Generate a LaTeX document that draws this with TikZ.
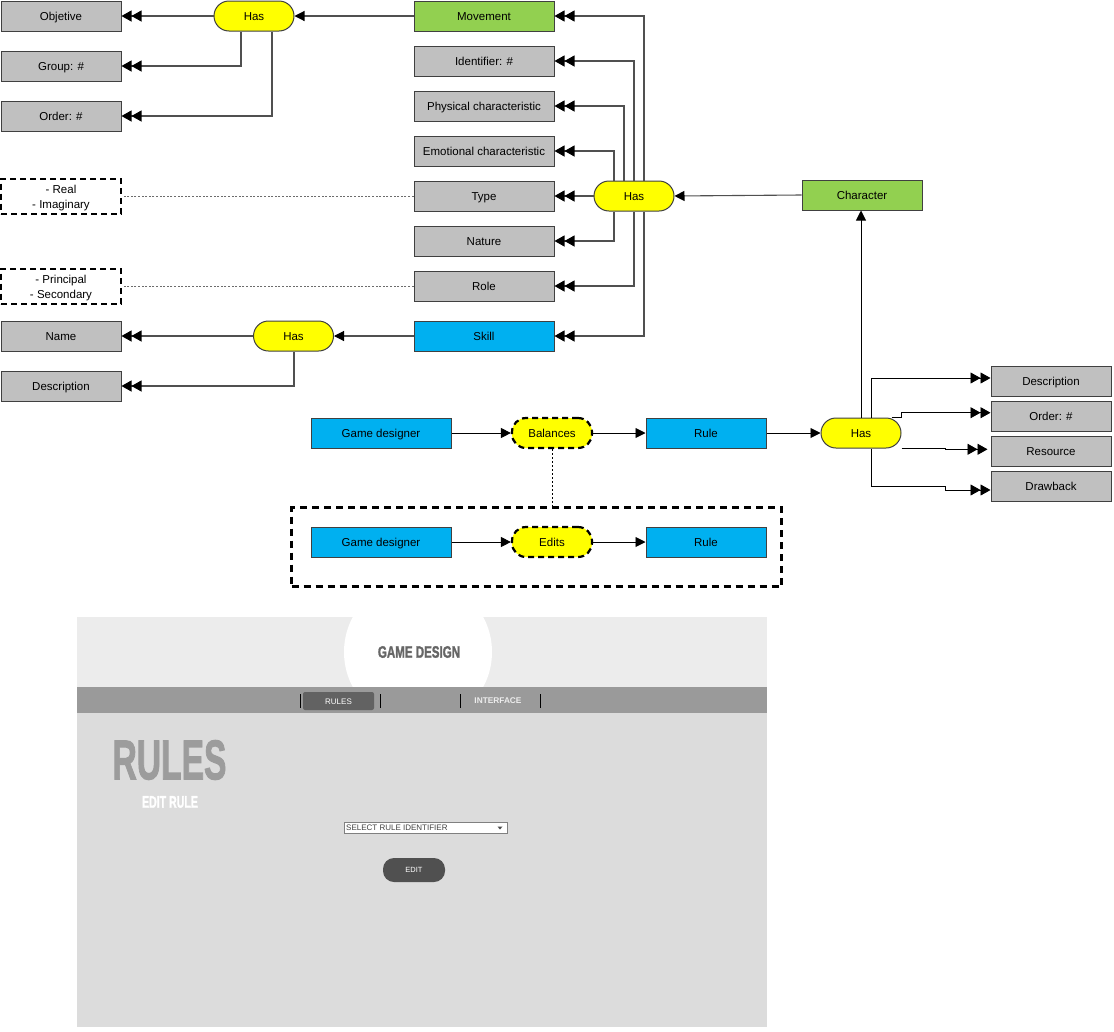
\documentclass[tikz,border=0pt]{standalone}
\usepackage{fontspec}
\setmainfont{Liberation Sans}
\newfontfamily\heavy[FakeBold=2]{Liberation Sans Bold}
\usetikzlibrary{arrows.meta,calc}
\definecolor{boxgray}{HTML}{C0C0C0}
\definecolor{edgegray}{HTML}{404040}
\definecolor{cgreen}{HTML}{92D050}
\definecolor{cblue}{HTML}{00B0F0}
\definecolor{cyellow}{HTML}{FFFF00}
\definecolor{linecol}{HTML}{505050}
\definecolor{hdr}{HTML}{ECECEC}
\definecolor{bodygray}{HTML}{DCDCDC}
\definecolor{band}{HTML}{9A9A9A}
\definecolor{tabgray}{HTML}{626262}
\definecolor{titlegray}{HTML}{666666}
\definecolor{rulesgray}{HTML}{9C9C9C}
\definecolor{btngray}{HTML}{505050}
\tikzset{
 base/.style={draw=edgegray, line width=1pt, minimum height=30pt, inner sep=0pt, text=black, text height=8.2pt, text depth=0pt},
 gbox/.style={base, fill=boxgray, minimum width=120pt},
 gwide/.style={base, fill=boxgray, minimum width=140pt},
 greenbox/.style={base, fill=cgreen},
 bluebox/.style={base, fill=cblue},
 hasnode/.style={base, fill=cyellow, rounded corners=15pt, minimum width=80pt},
 dashnode/.style={draw=black, line width=2.2pt, dash pattern=on 6pt off 4pt, fill=cyellow, rounded corners=14pt, minimum width=80pt, minimum height=30pt, inner sep=0pt, text height=8.2pt, text depth=0pt},
 notebox/.style={draw=black, line width=2pt, dash pattern=on 6pt off 4pt, minimum width=120pt, minimum height=35pt, align=center, inner sep=0pt},
 conn/.style={draw=linecol, line width=1.1pt},
 dbl/.style={conn, -{Triangle[length=10pt,width=11pt,color=black]Triangle[length=10pt,width=11pt,color=black]}},
 sgl/.style={conn, -{Triangle[length=10pt,width=10pt,color=black]}},
 blk/.style={draw=black, line width=0.9pt},
 dotconn/.style={draw=gray!85!black, line width=1pt, dash pattern=on 2pt off 1.6pt},
 mocktxt/.style={inner sep=0pt},
}
\begin{document}
\begin{tikzpicture}[x=1pt,y=-1pt,font=\fontsize{11.5}{15}\selectfont]
\useasboundingbox (0,0) rectangle (1114,1031);
% left column
\node[gbox] (objetive) at (61,16) {Objetive};
\node[gbox] (group) at (61,66) {Group: \#};
\node[gbox] (order) at (61,116) {Order: \#};
\node[notebox] (realnote) at (61,196) {\rule{0pt}{12.3pt}- Real\\- Imaginary};
\node[notebox] (rolenote) at (61,286) {\rule{0pt}{12.3pt}- Principal\\- Secondary};
\node[gbox] (name) at (61,336) {Name};
\node[gbox] (descA) at (61,386) {Description};
% has nodes
\node[hasnode] (hasA) at (254,16) {Has};
\node[hasnode] (hasC) at (293.5,336) {Has};
\node[hasnode] (hasB) at (634,196) {Has};
% middle column
\node[greenbox, minimum width=140pt] (movement) at (484,16) {Movement};
\node[gwide] (ident) at (484,61) {Identifier: \#};
\node[gwide] (phys) at (484,106) {Physical characteristic};
\node[gwide] (emo) at (484,151) {Emotional characteristic};
\node[gwide] (type) at (484,196) {Type};
\node[gwide] (nature) at (484,241) {Nature};
\node[gwide] (role) at (484,286) {Role};
\node[bluebox, minimum width=140pt] (skill) at (484,336) {Skill};
\node[greenbox, minimum width=120pt] (character) at (862,195) {Character};
% bottom flow
\node[bluebox, minimum width=140pt] (gd1) at (381,433) {Game designer};
\node[dashnode] (bal) at (552,433) {Balances};
\node[bluebox, minimum width=120pt] (rule1) at (706,433) {Rule};
\node[hasnode] (hasD) at (861,433) {Has};
\node[gbox] (descB) at (1051,381) {Description};
\node[gbox] (orderB) at (1051,416) {Order: \#};
\node[gbox] (resource) at (1051,451) {Resource};
\node[gbox] (drawback) at (1051,486) {Drawback};
% dashed frame
\node[draw=black, line width=2.5pt, dash pattern=on 7pt off 5pt, minimum width=490pt, minimum height=79pt, inner sep=0pt] (frame) at (536.5,547) {};
\node[bluebox, minimum width=140pt] (gd2) at (381,542) {Game designer};
\node[dashnode] (edits) at (552,542) {Edits};
\node[bluebox, minimum width=120pt] (rule2) at (706,542) {Rule};
% connectors top-left
\draw[sgl] (movement.west) -- (hasA.east);
\draw[dbl] (hasA.west) -- (objetive.east);
\draw[dbl] ([xshift=-13pt]hasA.south) |- (group.east);
\draw[dbl] ([xshift=18pt]hasA.south) |- (order.east);
% middle has
\draw[sgl] (character.west) -- (hasB.east);
\draw[dbl] ([xshift=10pt]hasB.north) |- (movement.east);
\draw[dbl] ([xshift=10pt]hasB.south) |- (skill.east);
\draw[dbl] (hasB.north) |- (ident.east);
\draw[dbl] (hasB.south) |- (role.east);
\draw[dbl] ([xshift=-10pt]hasB.north) |- (phys.east);
\draw[dbl] ([xshift=-20pt]hasB.north) |- (emo.east);
\draw[dbl] ([xshift=-20pt]hasB.south) |- (nature.east);
\draw[dbl] (hasB.west) -- (type.east);
% notes
\draw[dotconn] (type.west) -- (realnote.east);
\draw[dotconn] (role.west) -- (rolenote.east);
% skill has
\draw[sgl] (skill.west) -- (hasC.east);
\draw[dbl] (hasC.west) -- (name.east);
\draw[dbl] ([xshift=0.5pt]hasC.south) |- (descA.east);
% bottom flow
\draw[sgl, blk] (gd1.east) -- (bal.west);
\draw[sgl, blk] (bal.east) -- (rule1.west);
\draw[sgl, blk] (rule1.east) -- (hasD.west);
\draw[sgl, blk] (hasD.north) -- (hasD.north |- character.south);
\draw[sgl, blk] (gd2.east) -- (edits.west);
\draw[sgl, blk] (edits.east) -- (rule2.west);
\draw[draw=black, line width=1pt, dash pattern=on 2pt off 2pt] (bal.south) -- (bal.south |- frame.north);
% right has outputs
\coordinate (rsA) at (945.7,451);
\coordinate (dbA) at (945.7,486);
\draw[dbl, blk] ([xshift=10pt]hasD.north) |- ([yshift=3pt]descB.west);
\draw[dbl, blk] ([xshift=-10pt]hasD.north east) -- (hasD.north east) |- ([yshift=3.3pt]orderB.west);
\draw[dbl, blk, shorten >=3pt] (hasD.south east) -- (rsA |- hasD.south east) |- ([yshift=1.7pt]resource.west);
\draw[dbl, blk] ([xshift=10pt]hasD.south) |- (dbA) |- ([yshift=-4pt]drawback.west);
% ---------- mockup ----------
\fill[hdr] (77,617) rectangle (767,687);
\begin{scope}
\clip (77,617) rectangle (767,687);
\fill[white] (418,652) circle[radius=74pt];
\end{scope}
\node[mocktxt, text=titlegray] (gametitle) at (419,652) {\scalebox{0.7}[1]{\fontsize{16.5}{16.5}\selectfont\heavy GAME DESIGN}};
\fill[band] (77,687) rectangle (767,713);
\fill[tabgray, rounded corners=2pt] (303,692) rectangle (374,710);
\node[mocktxt, text=white] (tabrules) at (338.5,701.5) {\fontsize{8}{8}\selectfont RULES};
\node[mocktxt, text=white!93!black] (tabiface) at (498,700.5) {\fontsize{8.3}{8}\selectfont\bfseries INTERFACE};
\foreach \sx in {300,380,460,540} \draw[black, line width=0.8pt] (\sx,694) -- (\sx,708);
\fill[bodygray] (77,713) rectangle (767,1027);
\node[mocktxt, text=rulesgray] (bigrules) at (169.5,760) {\scalebox{0.6}[1]{\fontsize{56}{56}\selectfont\heavy RULES}};
\node[mocktxt, text=white] (editrule) at (170,802) {\scalebox{0.63}[1]{\fontsize{16.8}{17}\selectfont\heavy EDIT RULE}};
\draw[fill=white, draw=gray, line width=0.8pt] (344,822) rectangle (507,833);
\node[mocktxt, anchor=west, text=black!75] (selid) at (346,827.5) {\fontsize{8}{8}\selectfont SELECT RULE IDENTIFIER};
\fill[black!70] (497.5,826.5) -- (502.5,826.5) -- (500,829.5) -- cycle;
\fill[btngray, rounded corners=11pt] (383,858) rectangle (445,882);
\node[mocktxt, text=white] (editbtn) at (414,870) {\fontsize{7.5}{8}\selectfont EDIT};
\end{tikzpicture}
\end{document}
